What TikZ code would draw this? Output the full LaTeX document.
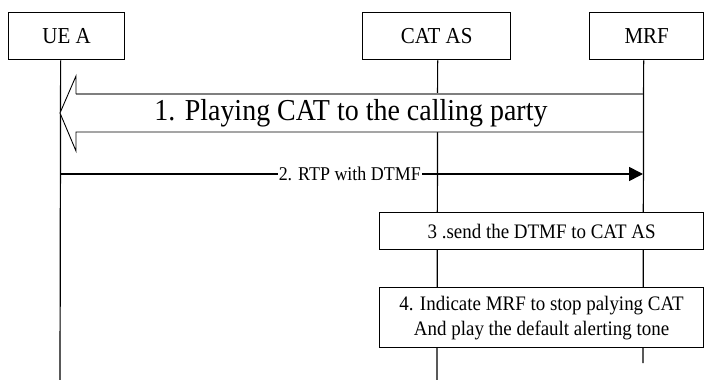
\documentclass[tikz,border=0pt]{standalone}
\usepackage{fontspec}
\setmainfont{Liberation Serif}[FakeStretch=0.92]
\usetikzlibrary{arrows.meta}
\definecolor{shaftgray}{HTML}{7F7F7F}
\begin{document}
\begin{tikzpicture}[x=1pt,y=-1pt,
  actor/.style={draw, line width=1.3pt, fill=white, inner sep=0pt,
    font=\fontsize{22.8}{26}\selectfont},
  stepbox/.style={draw, line width=1.2pt, fill=white, inner sep=0pt,
    align=center, font=\fontsize{20.6}{25}\selectfont},
  life/.style={line width=1.2pt},
  msg/.style={line width=1.6pt, -{Triangle[length=14pt,width=14pt]}},
  msglabel/.style={fill=white, inner sep=1pt, font=\fontsize{19.5}{22}\selectfont},
]
\useasboundingbox (0,0) rectangle (704,380);

% participants
\node[actor, minimum width=116pt, minimum height=47pt, anchor=north west] (ue) at (8,12) {UE A};
\node[actor, minimum width=148pt, minimum height=47pt, anchor=north west] (cat) at (362,12) {CAT AS};
\node[actor, minimum width=114pt, minimum height=47pt, anchor=north west] (mrf) at (589,12) {MRF};

% lifelines
\coordinate (ueBot) at (60,380);
\coordinate (catBot) at (437,380);
\coordinate (mrfBot) at (643,363);
\draw[life] ([xshift=-6pt]ue.south) -- (ueBot);
\draw[life] ([xshift=1pt]cat.south) -- (catBot);
\draw[life] ([xshift=-3pt]mrf.south) -- (mrfBot);

% 1. wide hollow arrow from MRF to UE A
\fill[white] (642.4,94) -- (76,94) -- (76,76) -- (60,113) -- (76,151) -- (76,132) -- (642.4,132) -- cycle;
\draw[shaftgray, line width=1.6pt] (76,94) -- (643,94);
\draw[line width=0.9pt, line join=miter] (76,94) -- (76,76) -- (60,113) -- (76,151) -- (76,132) -- (643,132);
\node[font=\fontsize{30.4}{34}\selectfont] (play) at (351,113) {1. Playing CAT to the calling party};

% 2. RTP with DTMF
\coordinate (rtpA) at (60,174);
\coordinate (rtpB) at (643,174);
\draw[msg] (rtpA) -- (rtpB) node[msglabel, pos=0.497] (rtp) {2. RTP with DTMF};

% 3 and 4: actions spanning CAT AS and MRF
\node[stepbox, minimum width=324pt, minimum height=37pt, anchor=north west] (s3) at (379,212) {3 .send the DTMF to CAT AS};
\node[stepbox, minimum width=324pt, minimum height=60pt, anchor=north west] (s4) at (379,287) {4. Indicate MRF to stop palying CAT\\And play the default alerting tone};
\end{tikzpicture}
\end{document}
